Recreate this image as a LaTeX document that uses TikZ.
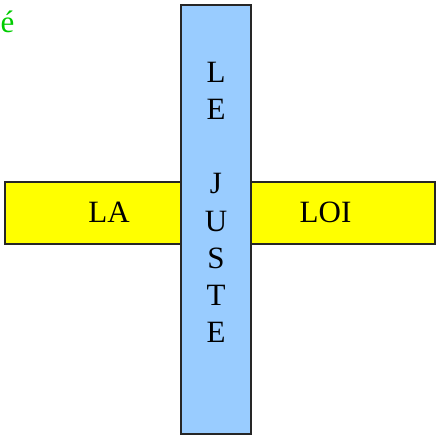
\documentclass[tikz,border=0pt]{standalone}
\usepackage{fontspec}
\setmainfont{Liberation Serif}
\definecolor{barblue}{RGB}{153,204,255}
\definecolor{baryellow}{RGB}{255,255,0}
\definecolor{accgreen}{RGB}{0,204,0}
\begin{document}
\begin{tikzpicture}[x=1bp,y=-1bp,
  bar/.style={draw=black!85,line width=2bp,inner sep=0pt,outer sep=0pt},
  lbl/.style={inner sep=0pt,font=\fontsize{31bp}{37bp}\selectfont},
]
\useasboundingbox (0,0) rectangle (436,437);
% horizontal yellow bar
\node[bar,fill=baryellow,minimum width=429.5bp,minimum height=62bp] (hbar) at (219.75,213) {};
% vertical blue bar
\node[bar,fill=barblue,minimum width=70bp,minimum height=429bp] (vbar) at (216,219.5) {};
% horizontal labels
\node[lbl,anchor=base] (la) at (109,222.7) {LA};
\node[lbl,anchor=base] (loi) at (325.5,222.7) {LOI};
% vertical letters
\foreach \t/\y [count=\i] in {L/83,E/120,J/194,U/231,S/268,T/305,E/342}
  \node[lbl,anchor=base] (v\i) at (216,\y) {\t};
% green accent letter
\node[lbl,anchor=base west,text=accgreen] (acc) at (0.5,33) {é};
\end{tikzpicture}
\end{document}
